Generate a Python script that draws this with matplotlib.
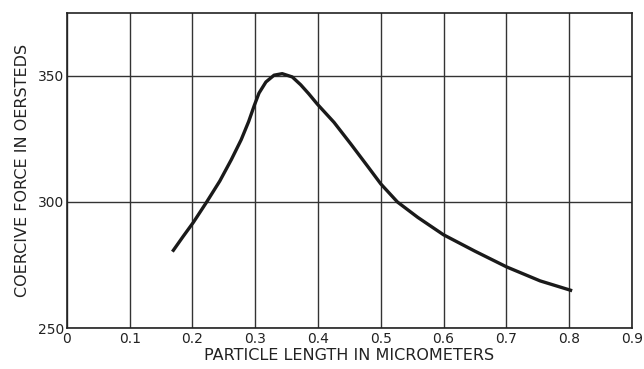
import matplotlib
matplotlib.use("Agg")
import matplotlib.pyplot as plt

# Coercive force vs. particle length
length_um = [0.168, 0.185, 0.2016, 0.2226, 0.2435, 0.2619, 0.2776, 0.2895, 0.2985, 0.306,
             0.317, 0.330, 0.343, 0.359, 0.3724, 0.385, 0.399, 0.4255, 0.452, 0.479,
             0.500, 0.5266, 0.559, 0.600, 0.650, 0.701, 0.754, 0.805]
coercive_oe = [280.3, 286.3, 292.0, 300.0, 308.3, 316.8, 324.7, 331.9, 338.3, 343.2,
               347.6, 350.3, 350.9, 349.6, 346.5, 343.0, 338.8, 331.6, 323.1, 314.2,
               307.2, 300.0, 293.9, 287.0, 280.5, 274.2, 268.7, 264.8]

x_ticks = [0, 0.1, 0.2, 0.3, 0.4, 0.5, 0.6, 0.7, 0.8, 0.9]
x_tick_labels = ["0", "0.1", "0.2", "0.3", "0.4", "0.5", "0.6", "0.7", "0.8", "0.9"]
y_ticks = [250, 300, 350]
y_tick_labels = ["250", "300", "350"]

plt.rcParams["font.family"] = ["DejaVu Sans"]

fig = plt.figure(figsize=(6.44, 3.69), dpi=100)
ax = fig.add_axes([0.104, 0.111, 0.877, 0.854])

ax.plot(length_um, coercive_oe, color="#1a1a1a", lw=2.4,
        solid_capstyle="butt", solid_joinstyle="round", zorder=3)

ax.set_xlim(0, 0.9)
ax.set_ylim(250, 375)
ax.set_xticks(x_ticks)
ax.set_xticklabels(x_tick_labels)
ax.set_yticks(y_ticks)
ax.set_yticklabels(y_tick_labels)

ax.grid(True, color="#333333", lw=1.0)
ax.set_axisbelow(True)
for s in ax.spines.values():
    s.set_color("#222222")
    s.set_linewidth(1.2)

ax.tick_params(axis="both", length=0, labelsize=10, colors="#222222")
ax.tick_params(axis="x", pad=3)
ax.tick_params(axis="y", pad=2)

ax.set_xlabel("PARTICLE LENGTH IN MICROMETERS", fontsize=11.5,
              color="#222222", labelpad=1)
ax.set_ylabel("COERCIVE FORCE IN OERSTEDS", fontsize=11.5,
              color="#222222", labelpad=6)

fig.savefig("out.png", dpi=100, facecolor="white")
